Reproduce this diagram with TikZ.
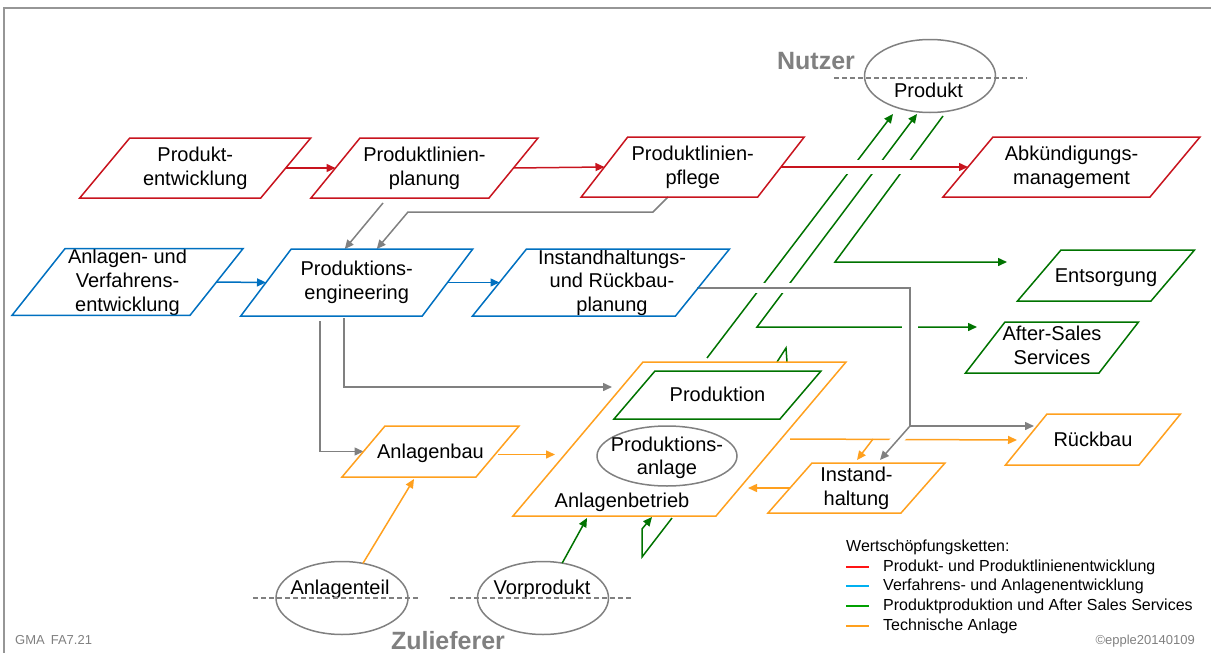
\documentclass[tikz,border=0pt]{standalone}
\usepackage{fontspec}
\setmainfont{Liberation Sans}
\usetikzlibrary{arrows.meta,shapes.geometric}
\definecolor{cred}{RGB}{200,20,30}
\definecolor{cblue}{RGB}{0,112,192}
\definecolor{cgreen}{RGB}{0,115,0}
\definecolor{corange}{RGB}{255,160,30}
\definecolor{cgray}{RGB}{128,128,128}
\definecolor{cframe}{RGB}{150,150,150}
\definecolor{lred}{RGB}{255,20,20}
\definecolor{lblue}{RGB}{0,176,240}
\definecolor{lgreen}{RGB}{0,160,0}
\definecolor{lorange}{RGB}{255,160,30}
\newcommand\lstrut{\rule[-4.24pt]{0pt}{22.34pt}}
\tikzset{
  pbox/.style={rectangle, inner sep=0pt, outer sep=0pt, align=center, font=\fontsize{20}{24}\selectfont,
    execute at begin node=\lstrut, execute at end node=\lstrut},
  txt/.style={inner sep=0pt, align=center, font=\fontsize{20}{23.5}\selectfont,
    execute at begin node=\lstrut, execute at end node=\lstrut},
  ell/.style={ellipse, draw=cgray, line width=1.5pt, inner sep=0pt, outer sep=0pt, align=center, font=\fontsize{20}{23}\selectfont},
  conn/.style={line width=1.5pt, ->},
  cline/.style={line width=1.5pt},
  halo/.style={draw=white, line width=#1},
  dline/.style={cgray, line width=1.2pt, dash pattern=on 5pt off 3pt},
  bigtxt/.style={text=cgray, font=\fontsize{25}{30}\selectfont\bfseries, inner sep=0pt},
  leg/.style={anchor=west, inner sep=0pt, font=\fontsize{16}{19}\selectfont},
  legline/.style={line width=2pt},
  smallnote/.style={text=cgray, inner sep=0pt, font=\fontsize{13}{15}\selectfont},
}
\begin{document}
\begin{tikzpicture}[x=1pt,y=-1pt, >={Triangle[length=9pt,width=8pt]}, line join=miter]
\useasboundingbox (0,0) rectangle (1211,653);
\draw[cframe, line width=1.5pt] (4,653) -- (4,8) -- (1211,8);

% ---------- box nodes ----------
\node[pbox, minimum width=181pt, minimum height=60pt] (pe) at (195.25,168) {Produkt-\\entwicklung};
\node[pbox, minimum width=178pt, minimum height=60pt] (plp) at (424.5,168) {Produktlinien-\\planung};
\node[pbox, minimum width=176.5pt, minimum height=60pt] (plf) at (692.75,167) {Produktlinien-\\pflege};
\node[pbox, minimum width=207pt, minimum height=60pt] (ab) at (1071.5,167) {Abkündigungs-\\management};
\node[pbox, minimum width=178pt, minimum height=66pt] (av) at (127.5,282) {Anlagen- und\\Verfahrens-\\entwicklung};
\node[pbox, minimum width=181.5pt, minimum height=67pt] (peng) at (356.75,282.5) {Produktions-\\engineering};
\node[pbox, minimum width=203pt, minimum height=67pt] (ihp) at (601,282.5) {};
\node[txt] (ihptxt) at (612,282.5) {Instandhaltungs-\\und Rückbau-\\planung};
\node[pbox, minimum width=203pt, minimum height=154pt] (abt) at (679.5,439) {};
\node[txt] (abttxt) at (622,501) {Anlagenbetrieb};
\node[pbox, minimum width=166pt, minimum height=48pt] (prod) at (717.5,395) {Produktion};
\node[pbox, minimum width=134pt, minimum height=51pt] (anb) at (430.5,451.5) {Anlagenbau};
\node[pbox, minimum width=133pt, minimum height=50pt] (ih) at (856.5,488) {Instand-\\haltung};
\node[pbox, minimum width=133.5pt, minimum height=51pt] (rb) at (1093,439.5) {Rückbau};
\node[pbox, minimum width=133.5pt, minimum height=51pt] (ent) at (1106,275.5) {Entsorgung};
\node[pbox, minimum width=133.5pt, minimum height=51pt] (as) at (1052,347.5) {After-Sales\\Services};

% ---------- ellipses ----------
\node[ell, minimum width=131pt, minimum height=73pt] (pr) at (930,76) {};
\node[txt] (prtxt) at (928.5,91) {Produkt};
\node[ell, minimum width=140pt, minimum height=60pt] (pa) at (667,456) {};
\node[txt] (patxt) at (667,458) {Produktions-\\anlage};
\node[ell, minimum width=132pt, minimum height=73pt] (atl) at (342,598) {};
\node[txt] (atltxt) at (340,588) {Anlagenteil};
\node[ell, minimum width=131pt, minimum height=73pt] (vp) at (543,598) {};
\node[txt] (vptxt) at (542,588) {Vorprodukt};

\draw[dline] ([xshift=-30.5pt,yshift=-2pt]pr.west) -- ([xshift=31.5pt,yshift=-2pt]pr.east);
\draw[dline] ([xshift=-23pt]atl.west) -- ([xshift=12pt]atl.east);
\draw[dline] ([xshift=-27.5pt]vp.west) -- ([xshift=23.5pt]vp.east);

\node[bigtxt] (nutzer) at (816,61) {Nutzer};
\node[bigtxt] (zuliefer) at (448,641) {Zulieferer};

% ---------- coordinates ----------
\coordinate (prA) at (893,114);
\coordinate (prB) at (917,114);
\coordinate (prC) at (943,116);
\coordinate (gB) at (757,327);
\coordinate (gC) at (835,262);
\coordinate (asin) at (977,327);
\coordinate (entin) at (1007,262);
\coordinate (abtv) at (587,518);
\coordinate (e1) at (672,518);
\coordinate (e2) at (642,557);
\coordinate (e3) at (642,529);
\coordinate (e4) at (652,517);
\coordinate (abtw) at (555,454.5);
\coordinate (abtin) at (612,387);
\coordinate (abte) at (748,488);
\coordinate (rbo) at (1017,440);
\coordinate (ob) at (873,439);
\coordinate (gj) at (910,426);
\coordinate (rbg) at (1034,426);

% ---------- green connectors ----------
\draw[conn, cgreen] ([xshift=27.5pt,yshift=4pt]abt.north) -- (prA);
\draw[cline, cgreen, <->] (prB) -- (gB) -- (asin);
\draw[conn, cgreen] (prC) -- (gC) -- (entin);
\draw[cline, cgreen] ([xshift=97.5pt]abt.north) -- ([xshift=106.5pt,yshift=14pt]abt.north) -- ([xshift=107.5pt]abt.north);
\draw[conn, cgreen] (vp) -- (abtv);
\draw[conn, cgreen] (e1) -- (e2) -- (e3) -- (e4);

% ---------- orange connectors ----------
\draw[conn, corange] (atl) -- ([xshift=-16.5pt,yshift=-2pt]anb.south);
\draw[conn, corange] ([yshift=-3pt]anb.east) -- (abtw);
\draw[conn, corange] ([xshift=9pt]abt.east) -- (rbo);
\draw[conn, corange] (ob) -- ([xshift=0.5pt,yshift=3pt]ih.north);
\draw[conn, corange] (ih.west) -- (abte);

% ---------- gaps at crossings ----------
\draw[halo=14pt] (840,167) -- (918,167);
\draw[halo=10pt] (748,288) -- (798,288);
\draw[halo=16pt] (910,322) -- (910,332);
\draw[halo=12pt] (904,432) -- (892,446);

% ---------- red / blue / gray connectors ----------
\draw[conn, cred] (pe.east) -- (plp.west);
\draw[conn, cred] (plp.east) -- (plf.west);
\draw[conn, cred] (plf.east) -- (ab.west);
\draw[conn, cblue] (av.east) -- (peng.west);
\draw[conn, cblue] (peng.east) -- (ihp.west);
\draw[conn, cgray] ([xshift=-41.5pt,yshift=-5pt]plp.south) -- ([xshift=-12pt]peng.north);
\draw[conn, cgray] ([xshift=-24.75pt]plf.south) -- ++(-15,15) -- ++(-245,0) -- ([xshift=20pt]peng.north);
\draw[conn, cgray] ([xshift=-36.75pt,yshift=-5pt]peng.south) |- (anb.west);
\draw[conn, cgray] ([xshift=-12.75pt,yshift=-2pt]peng.south) |- (abtin);
\draw[cline, cgray] ([xshift=-5.5pt,yshift=-5.5pt]ihp.east) -| (gj);
\draw[conn, cgray] (gj) -- (rbg);
\draw[conn, cgray] (gj) -- ([xshift=23.5pt,yshift=3pt]ih.north);

% ---------- parallelogram outlines ----------
\foreach \n/\c/\s in {pe/cred/50, plp/cred/49, plf/cred/46.5, ab/cred/50,
                      av/cblue/53, peng/cblue/50.5, ihp/cblue/54,
                      abt/corange/130, anb/corange/43, ih/corange/44, rb/corange/41.5,
                      prod/cgreen/41, ent/cgreen/43.5, as/cgreen/39.5}
  \draw[\c, line width=1.5pt] ([xshift=\s/2]\n.north west) -- ([xshift=\s/2]\n.north east)
     -- ([xshift=-\s/2]\n.south east) -- ([xshift=-\s/2]\n.south west) -- cycle;

% ---------- legend ----------
\node[leg] (lt) at (846,547) {Wertschöpfungsketten:};
\node[leg] (l1) at (883,567) {Produkt- und Produktlinienentwicklung};
\node[leg] (l2) at (883,586) {Verfahrens- und Anlagenentwicklung};
\node[leg] (l3) at (883,606) {Produktproduktion und After Sales Services};
\node[leg] (l4) at (883,626) {Technische Anlage};
\draw[lred, legline] ([xshift=-37pt]l1.west) -- ([xshift=-14pt]l1.west);
\draw[lblue, legline] ([xshift=-37pt]l2.west) -- ([xshift=-14pt]l2.west);
\draw[lgreen, legline] ([xshift=-37pt]l3.west) -- ([xshift=-14pt]l3.west);
\draw[lorange, legline] ([xshift=-37pt]l4.west) -- ([xshift=-14pt]l4.west);

\node[smallnote, anchor=west] (gma) at (15,640) {GMA\hspace{6pt}FA7.21};
\node[smallnote, anchor=east] (copy) at (1195,641) {©epple20140109};
\end{tikzpicture}
\end{document}
